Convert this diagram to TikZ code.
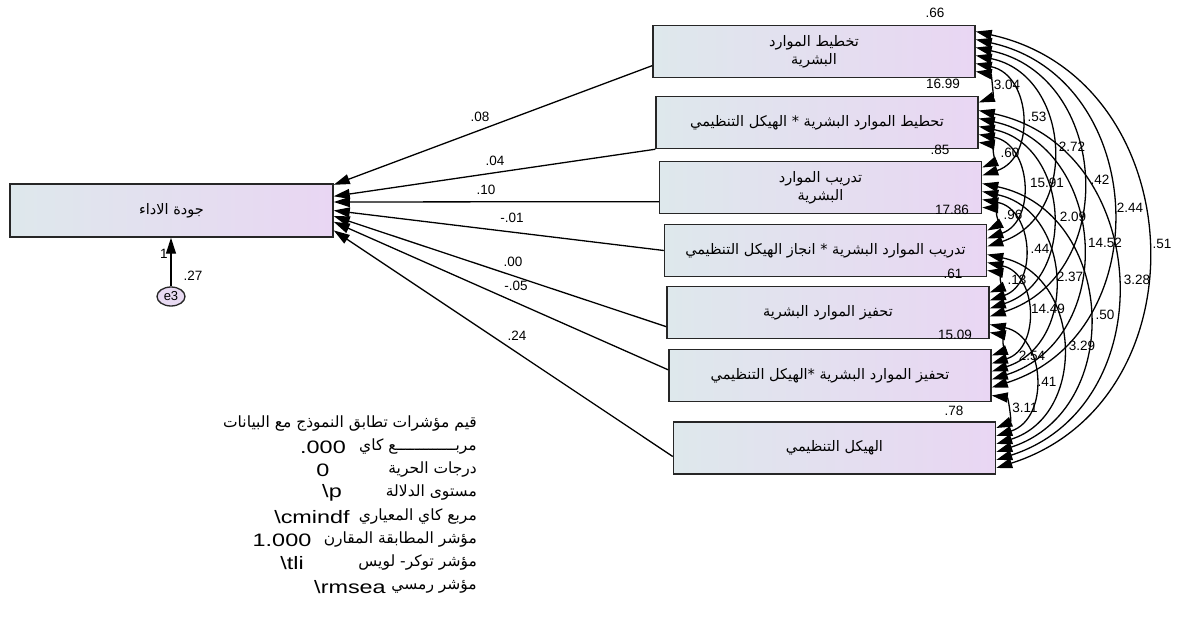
\documentclass[tikz,border=0pt]{standalone}
\usepackage{fontspec}
\setmainfont{Liberation Sans}
\newfontfamily\arabicfont[Script=Arabic]{DejaVu Sans}
\newfontfamily\widesans[FakeStretch=1.3]{Liberation Sans}
\TeXXeTstate=1
\usetikzlibrary{arrows.meta,shapes.geometric}
\definecolor{boxleft}{RGB}{222,232,236}
\definecolor{boxright}{RGB}{233,214,243}
\definecolor{errfill}{RGB}{232,218,242}
\newcommand{\ar}[1]{{\leavevmode\arabicfont\beginR #1\endR}}
\tikzset{
  varbox/.style={draw=black!85, line width=1.5pt, left color=boxleft, right color=boxright,
    minimum width=322pt, minimum height=52pt, inner sep=0pt, align=center,
    font=\arabicfont\fontsize{14.5}{18}\selectfont},
  errnode/.style={ellipse, draw=black!85, line width=1.3pt, fill=errfill, minimum width=28pt,
    minimum height=19pt, inner sep=0pt, font=\fontsize{13}{13}\selectfont},
  regline/.style={line width=1.3pt, -{Triangle[length=16pt,width=10pt]}},
  covline/.style={line width=1.3pt, {Triangle[length=16pt,width=10pt]}-{Triangle[length=16pt,width=10pt]}},
  coef/.style={font=\fontsize{13.5}{14}\selectfont, inner sep=0pt},
  fitname/.style={anchor=east, inner sep=0pt, font=\arabicfont\fontsize{15.5}{18}\selectfont},
  fitval/.style={inner sep=0pt, font=\widesans\fontsize{18}{18}\selectfont}
}
\begin{document}
\begin{tikzpicture}[x=1pt,y=-1pt]
  \useasboundingbox (0,0) rectangle (1178,620);
  % dependent variable and its error term
  \node[varbox, minimum width=323pt, minimum height=53pt] (jawda) at (171.5,210.5) {\ar{جودة الاداء}};
  \node[errnode] (e3) at (171,296.5) {e3};
  \draw[regline] (e3) -- (e3 |- jawda.south);
  \node[coef] (w1) at (164,254) {1};
  \node[coef] (ve3) at (193,276) {.27};

  % predictors
  \node[varbox] (b1) at (814,51.5) {\ar{تخطيط الموارد}\\\ar{البشرية}};
  \node[varbox] (b2) at (817,122.5) {\ar{تحطيط الموارد البشرية * الهيكل التنظيمي}};
  \node[varbox] (b3) at (820.5,187.5) {\ar{تدريب الموارد}\\\ar{البشرية}};
  \node[varbox] (b4) at (825.5,250.5) {\ar{تدريب الموارد البشرية * انجاز الهيكل التنظيمي}};
  \node[varbox] (b5) at (828,312.5) {\ar{تحفيز الموارد البشرية}};
  \node[varbox] (b6) at (830,375.5) {\ar{تحفيز الموارد البشرية *الهيكل التنظيمي}};
  \node[varbox] (b7) at (834.5,448) {\ar{الهيكل التنظيمي}};

  % variances
  \node[coef] (v1) at (935,13) {.66};
  \node[coef] (v2) at (943,84) {16.99};
  \node[coef] (v3) at (940,150) {.85};
  \node[coef] (v4) at (952,210) {17.86};
  \node[coef] (v5) at (953,274) {.61};
  \node[coef] (v6) at (955,335) {15.09};
  \node[coef] (v7) at (954,411) {.78};

  % paths to performance
  \draw[regline] (b1.185) -- (jawda.9);
  \draw[regline] (b2.south west) -- (jawda.5.5);
  \draw[regline] (b3.185) -- (jawda.3);
  \draw[regline] (b4.west) -- (jawda.0);
  \draw[regline] (b5.185) -- (jawda.-2);
  \draw[regline] (b6.178) -- (jawda.-4.5);
  \draw[regline] (b7.183) -- (jawda.-7);
  \node[coef] (p1) at (480,117) {.08};
  \node[coef] (p2) at (495,161) {.04};
  \node[coef] (p3) at (486,190) {.10};
  \node[coef] (p4) at (512,218) {-.01};
  \node[coef] (p5) at (513,262) {.00};
  \node[coef] (p6) at (516,286) {-.05};
  \node[coef] (p7) at (517,336) {.24};

  % covariances
  \foreach \i in {1,...,7}
    \foreach \j in {1,...,7}{
      \pgfmathtruncatemacro\k{\j<\i ? \i-1-\j : \i+6-\j}
      \path (b\i.east) ++(0,{-20+8*\k}) coordinate (t\i\j);
    }
  \foreach \i/\j/\v/\lx/\ly in {1/2/3.04/1007/85, 2/3/.60/1010/153, 3/4/.96/1013/215,
      4/5/.13/1017/280, 5/6/2.54/1032/356, 6/7/3.11/1025/408,
      1/3/.53/1037/117, 2/4/15.91/1047/183, 3/5/.44/1040/249, 4/6/14.49/1048/309,
      5/7/.41/1047/382, 1/4/2.72/1072/147, 2/5/2.09/1073/217, 3/6/2.37/1070/277,
      4/7/3.29/1082/346, 1/5/.42/1100/180, 2/6/14.52/1105/243, 3/7/.50/1105/315,
      1/6/2.44/1130/208, 2/7/3.28/1137/280, 1/7/.51/1162/244}{
    \draw[covline] (t\i\j) to[bend left=75, looseness=1.3] (t\j\i);
    \node[coef] (c\i\j) at (\lx,\ly) {\v};
  }

  % fit indices
  \node[fitname] (f1) at (477,424) {\ar{قيم مؤشرات تطابق النموذج مع البيانات}};
  \node[fitname] (f2) at (477,447) {\ar{مربـــــــــــــع كاي}};
  \node[fitname] (f3) at (477,470) {\ar{درجات الحرية}};
  \node[fitname] (f4) at (477,493) {\ar{مستوى الدلالة}};
  \node[fitname] (f5) at (477,517) {\ar{مربع كاي المعياري}};
  \node[fitname] (f6) at (477,540) {\ar{مؤشر المطابقة المقارن}};
  \node[fitname] (f7) at (477,563) {\ar{مؤشر توكر- لويس}};
  \node[fitname] (f8) at (477,587) {\ar{مؤشر رمسي}};
  \node[fitval] (g2) at (323,447) {.000};
  \node[fitval] (g3) at (323,470) {0};
  \node[fitval] (g4) at (332,493) {\textbackslash p};
  \node[fitval] (g5) at (312,517) {\textbackslash cmindf};
  \node[fitval] (g6) at (282,540) {1.000};
  \node[fitval] (g7) at (292,563) {\textbackslash tli};
  \node[fitval] (g8) at (350,587) {\textbackslash rmsea};
\end{tikzpicture}
\end{document}
